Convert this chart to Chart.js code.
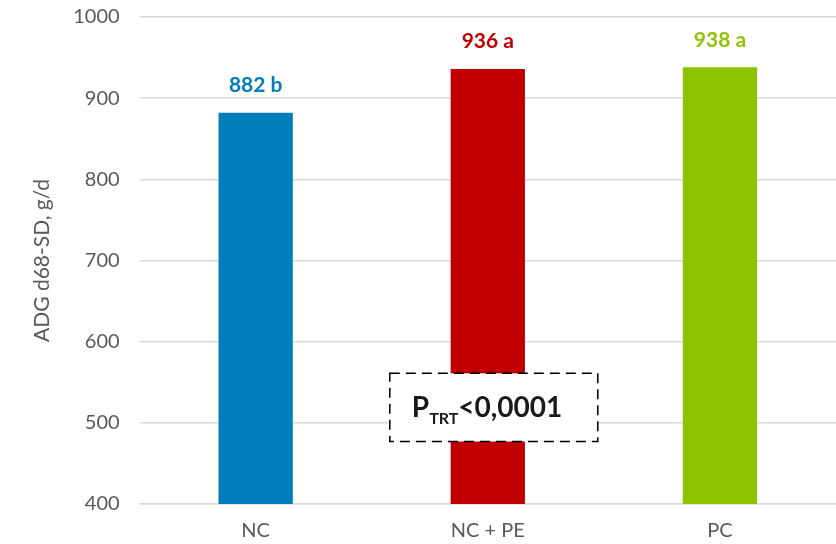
<!DOCTYPE html>
<html>
<head>
<meta charset="utf-8">
<script src="https://cdn.jsdelivr.net/npm/chart.js@4"></script>
<style>
  html, body { margin: 0; padding: 0; background: #fff; }
  #wrap { width: 836px; height: 544px; }
</style>
</head>
<body>
<div id="wrap"><canvas id="adgChart"></canvas></div>
<script>
const categories = ["NC", "NC + PE", "PC"];
const adgValues = [882, 936, 938];
const letters = ["b", "a", "a"];
const barColors = ["#007DBA", "#C00000", "#8DC400"];
const yTicks = [400, 500, 600, 700, 800, 900, 1000];

const FONT = "Lato, 'Open Sans', sans-serif";

// value labels above each bar, e.g. "882 b"
const valueLabels = {
  id: "valueLabels",
  afterDatasetsDraw(chart) {
    const c = chart.ctx;
    const meta = chart.getDatasetMeta(0);
    c.save();
    c.font = "bold 21px " + FONT;
    c.textAlign = "center";
    c.textBaseline = "bottom";
    meta.data.forEach((bar, i) => {
      c.fillStyle = barColors[i];
      c.fillText(adgValues[i] + " " + letters[i], bar.x, bar.y - 17);
    });
    c.restore();
  }
};

// dashed box with P value, over the middle bar
const pBox = {
  id: "pBox",
  afterDatasetsDraw(chart) {
    const c = chart.ctx;
    const x = chart.scales.x.getPixelForValue(1);
    const yTop = chart.scales.y.getPixelForValue(561);
    const yBot = chart.scales.y.getPixelForValue(477);
    const w = 208;
    const left = x + 6 - w / 2;
    c.save();
    c.fillStyle = "#fff";
    c.fillRect(left, yTop, w, yBot - yTop);
    c.setLineDash([10, 6]);
    c.lineWidth = 1.5;
    c.strokeStyle = "#000";
    c.strokeRect(left, yTop, w, yBot - yTop);
    c.setLineDash([]);
    const mid = (yTop + yBot) / 2;
    c.fillStyle = "#1a1a1a";
    c.textBaseline = "alphabetic";
    c.textAlign = "left";
    let tx = left + 22;
    c.font = "bold 28px " + FONT;
    c.fillText("P", tx, mid + 10);
    tx += c.measureText("P").width;
    c.font = "bold 16px " + FONT;
    c.fillText("TRT", tx, mid + 17);
    tx += c.measureText("TRT").width;
    c.font = "bold 28px " + FONT;
    c.fillText("<0,0001", tx, mid + 10);
    c.restore();
  }
};

new Chart(document.getElementById("adgChart"), {
  type: "bar",
  data: {
    labels: categories,
    datasets: [{
      data: adgValues,
      backgroundColor: barColors,
      barPercentage: 1,
      categoryPercentage: 0.32
    }]
  },
  options: {
    responsive: true,
    maintainAspectRatio: false,
    animation: false,
    layout: { padding: { top: 17, right: -4, left: 30, bottom: -6 } },
    plugins: { legend: { display: false }, tooltip: { enabled: false } },
    scales: {
      x: {
        grid: { display: false },
        border: { color: "#d9d9d9", width: 1.5 },
        ticks: { color: "#595959", font: { family: FONT, size: 20 }, padding: 7 }
      },
      y: {
        min: 400,
        max: 1000,
        afterBuildTicks(axis) { axis.ticks = yTicks.map(v => ({ value: v })); },
        grid: { color: "#d9d9d9", lineWidth: 1.5, tickLength: 18, tickColor: "transparent" },
        border: { display: false },
        ticks: {
          color: "#595959",
          font: { family: FONT, size: 20 },
          padding: 2,
          callback: v => String(v)
        },
        title: {
          display: true,
          text: "ADG d68-SD, g/d",
          color: "#595959",
          font: { family: FONT, size: 21 },
          padding: { top: 0, bottom: 16 }
        }
      }
    }
  },
  plugins: [valueLabels, pBox]
});
</script>
</body>
</html>
